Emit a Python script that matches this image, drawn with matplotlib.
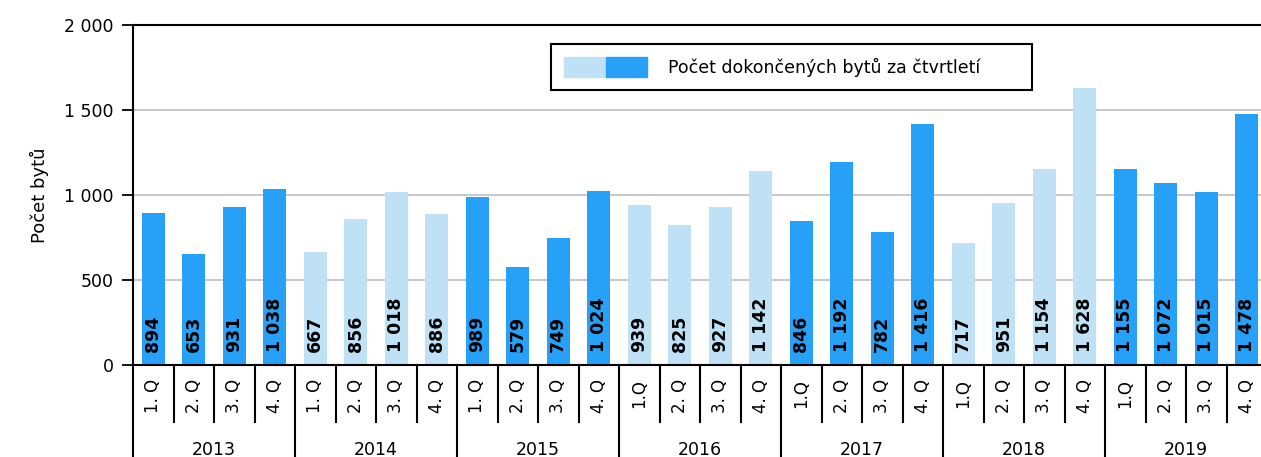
import matplotlib
matplotlib.use("Agg")
import matplotlib.pyplot as plt
from matplotlib.patches import Patch
from matplotlib.legend_handler import HandlerTuple
from matplotlib.ticker import FuncFormatter

# --------------------------------------------------
# data
# --------------------------------------------------
years = ["2013", "2014", "2015", "2016", "2017", "2018", "2019"]
quarter_labels = [
    "1. Q", "2. Q", "3. Q", "4. Q",
    "1. Q", "2. Q", "3. Q", "4. Q",
    "1. Q", "2. Q", "3. Q", "4. Q",
    "1.Q", "2. Q", "3. Q", "4. Q",
    "1.Q", "2. Q", "3. Q", "4. Q",
    "1.Q", "2. Q", "3. Q", "4. Q",
    "1.Q", "2. Q", "3. Q", "4. Q",
]
values = [
    894, 653, 931, 1038,
    667, 856, 1018, 886,
    989, 579, 749, 1024,
    939, 825, 927, 1142,
    846, 1192, 782, 1416,
    717, 951, 1154, 1628,
    1155, 1072, 1015, 1478,
]
# light years: 2014, 2016, 2018
light_years = ["2014", "2016", "2018"]

dark = "#27A1F8"
light = "#BEE1F5"

legend_label = "Počet dokončených bytů za čtvrtletí"
ylabel = "Počet bytů"

# --------------------------------------------------
# plot
# --------------------------------------------------
plt.rcParams["font.family"] = ["DejaVu Sans"]

W, H = 1261, 457
fig = plt.figure(figsize=(W / 100, H / 100), dpi=100)
ax = fig.add_axes([133 / W, 92 / H, 1134 / W, 340 / H])

x = list(range(len(values)))
colors = []
for i in x:
    yr = years[i // 4]
    colors.append(light if yr in light_years else dark)

ax.bar(x, values, width=0.58, color=colors, zorder=2)

for xi, v in zip(x, values):
    ax.annotate(f"{v:,}".replace(",", " "), (xi, 0), xytext=(0, 9),
                textcoords="offset points", rotation=90, ha="center",
                va="bottom", fontsize=12.5, fontweight="bold", color="black",
                zorder=3)

ax.set_xlim(-0.5, len(values) - 0.5)
ax.set_ylim(0, 2000)
ax.set_yticks([0, 500, 1000, 1500, 2000])
ax.yaxis.set_major_formatter(FuncFormatter(lambda v, p: f"{int(v):,}".replace(",", " ")))
ax.tick_params(axis="y", length=8, width=1.3, labelsize=12.5, pad=6, colors="black")
ax.yaxis.grid(True, color="#C4C4C4", lw=1.3, zorder=0)
ax.set_axisbelow(True)

ax.set_xticks(x)
ax.set_xticklabels(quarter_labels, rotation=90, fontsize=12)
ax.tick_params(axis="x", length=0, pad=10)

for s in ["left", "top", "bottom"]:
    ax.spines[s].set_linewidth(1.5)
    ax.spines[s].set_color("black")
ax.spines["right"].set_visible(False)

# category separators below the axis
trans = ax.get_xaxis_transform()
for i in range(len(values) + 1):
    b = i - 0.5
    if i % 4 == 0:
        ax.plot([b, b], [0, -0.3], transform=trans, color="black", lw=1.5,
                clip_on=False)
    else:
        ax.plot([b, b], [0, -0.168], transform=trans, color="black", lw=1.5,
                clip_on=False)

for j, yr in enumerate(years):
    ax.text(j * 4 + 1.5, -0.25, yr, transform=trans, ha="center",
            va="center", fontsize=12.5)

ax.set_ylabel(ylabel, fontsize=13)
ax.yaxis.set_label_coords(-0.074, 0.5)

h = (Patch(color=light), Patch(color=dark))
leg = ax.legend([h], [legend_label], handler_map={tuple: HandlerTuple(ndivide=None, pad=0)},
                loc="upper left", bbox_to_anchor=(551 / W, 1 - 92 / H, 481 / W, 48 / H),
                bbox_transform=fig.transFigure, mode="expand", fontsize=12.5,
                handlelength=4.8, handleheight=1.4, handletextpad=1.2,
                borderpad=0.75, borderaxespad=0, fancybox=False, framealpha=1)
leg.get_frame().set_edgecolor("black")
leg.get_frame().set_linewidth(1.5)

fig.savefig("out.png", dpi=100)
